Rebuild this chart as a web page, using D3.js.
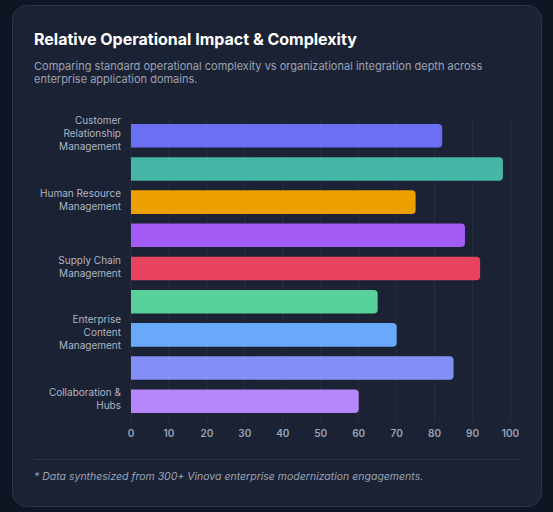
<!DOCTYPE html><html><head><meta charset="utf-8">
<script src="https://cdn.jsdelivr.net/npm/d3@7/dist/d3.min.js"></script>
<style>body{margin:0;background:#0f1523;font-family:Inter,"Noto Sans",sans-serif}</style></head><body>
<svg id="c" width="553" height="512"></svg>
<script>
const categories=["Customer Relationship Management","Enterprise Resource Planning","Human Resource Management","Business Intelligence & Analytics","Supply Chain Management","Marketing Automation","Enterprise Content Management","Financial Management","Collaboration & Hubs"];
const labelLines=[["Customer","Relationship","Management"],[],["Human Resource","Management"],[],["Supply Chain","Management"],[],["Enterprise","Content","Management"],[],["Collaboration &","Hubs"]];
const values=[82,98,75,88,92,65,70,85,60];
const colors=["#6a6ff3","#46b6a6","#eb9f00","#a45cf6","#e8445f","#58d29a","#6aa8fa","#838ef6","#b687fb"];
const ticks=[0,10,20,30,40,50,60,70,80,90,100];
const svg=d3.select("#c");
svg.append("rect").attr("x",12.5).attr("y",5.5).attr("width",529).attr("height",501).attr("rx",14).attr("fill","#1b2234").attr("stroke","#2c3447");
svg.append("text").attr("x",34).attr("y",45).attr("fill","#fff").attr("font-size",16).attr("font-weight",700).text("Relative Operational Impact & Complexity");
["Comparing standard operational complexity vs organizational integration depth across","enterprise application domains."].forEach((t,i)=>svg.append("text").attr("x",34).attr("y",70+i*13).attr("fill","#9aa3b5").attr("font-size",11).text(t));
const x=d3.scaleLinear().domain([0,100]).range([131,510.5]);
const y=d3.scaleBand().domain(categories).range([118,419]).paddingInner(0.29).paddingOuter(0.18);
const g=svg.append("g");
g.selectAll("line.g").data(ticks).join("line").attr("x1",d=>x(d)).attr("x2",d=>x(d)).attr("y1",118).attr("y2",422).attr("stroke","#262e40");
svg.append("g").selectAll("path").data(values).join("path").attr("fill",(d,i)=>colors[i]).attr("d",(d,i)=>{const x0=x(0),x1=x(d),y0=y(categories[i]),h=y.bandwidth(),r=4;return `M${x0},${y0}H${x1-r}Q${x1},${y0} ${x1},${y0+r}V${y0+h-r}Q${x1},${y0+h} ${x1-r},${y0+h}H${x0}Z`;});
svg.append("g").selectAll("text").data(ticks).join("text").attr("x",d=>x(d)).attr("y",437).attr("text-anchor","middle").attr("fill","#9aa3b5").attr("font-size",10).attr("font-weight",600).text(d=>d);
labelLines.forEach((ls,i)=>{const cy=y(categories[i])+y.bandwidth()/2-2;ls.forEach((t,j)=>svg.append("text").attr("x",121).attr("y",cy+(j-(ls.length-1)/2)*13+3.5).attr("text-anchor","end").attr("fill","#aeb5c4").attr("font-size",10).text(t));});
svg.append("line").attr("x1",34).attr("x2",520).attr("y1",459.5).attr("y2",459.5).attr("stroke","#2c3447");
svg.append("text").attr("x",34).attr("y",480).attr("fill","#9aa3b5").attr("font-size",10.5).attr("font-style","italic").text("* Data synthesized from 300+ Vinova enterprise modernization engagements.");
</script></body></html>
